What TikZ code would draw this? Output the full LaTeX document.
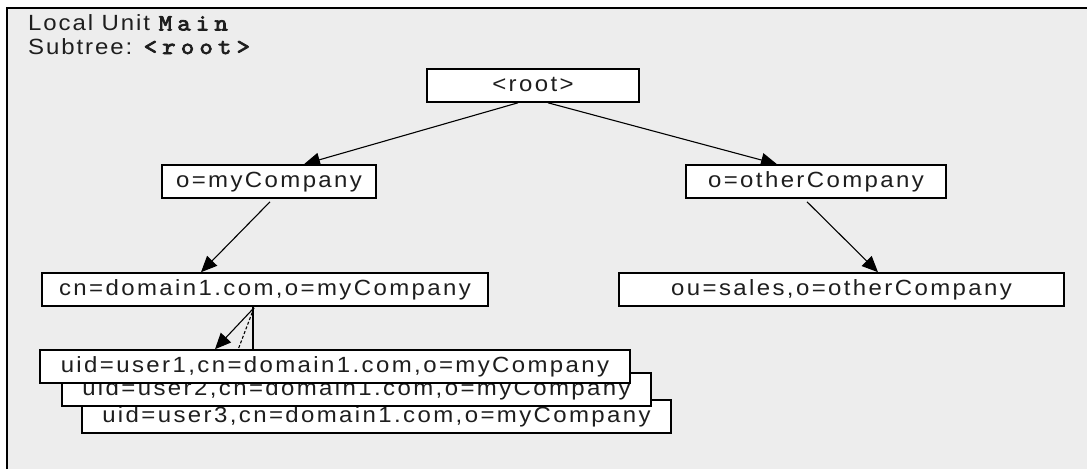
\documentclass[tikz,border=0pt]{standalone}
\usepackage{graphicx}
\usepackage{fontspec}
\setmainfont{Liberation Sans}
\newfontfamily\nodefont[LetterSpace=10]{Liberation Sans}
\newfontfamily\hdfont[LetterSpace=8]{Liberation Sans}
\newfontfamily\hdmono[LetterSpace=20,FakeBold=3]{lmmono10-regular.otf}
\usetikzlibrary{arrows.meta,calc}
\pgfdeclarelayer{bg}
\pgfsetlayers{bg,main}
\definecolor{panel}{HTML}{EDEDED}
\definecolor{ink}{HTML}{1E1E1E}
\newcommand{\wide}[1]{\scalebox{1.09}[1]{#1}}
\tikzset{
  dnbox/.style={draw=black, line width=1.6pt, fill=white, rectangle, inner sep=0pt,
    minimum height=33pt, text height=16pt, text depth=4.5pt, text=ink,
    font=\nodefont\fontsize{22}{26}\selectfont},
  edge/.style={draw=black, line width=1.1pt, -{Triangle[length=16pt,width=14pt]}},
  hdtext/.style={anchor=base west, inner sep=0pt, text height=15pt, text depth=2pt, text=ink, font=\hdfont\fontsize{22}{24}\selectfont}
}
\begin{document}
\begin{tikzpicture}[x=1pt,y=-1pt]
\useasboundingbox (0,0) rectangle (1087,469);
% header
\node[hdtext] (hd1) at (28,30.5) {\wide{Local Unit {\hdmono\fontsize{23.5}{24}\selectfont Main}}};
\node[hdtext] (hd2) at (28,54) {\wide{Subtree: {\hdmono\fontsize{23.5}{24}\selectfont <root>}}};
% tree nodes
\node[dnbox, minimum width=212pt] (root) at (533,85.5) {\wide{<root>}};
\node[dnbox, minimum width=214pt] (myc) at (269,181.5) {\wide{o=myCompany}};
\node[dnbox, minimum width=260pt] (othc) at (816,181.5) {\wide{o=otherCompany}};
\node[dnbox, minimum width=446pt] (cn) at (265,289.5) {\wide{cn=domain1.com,o=myCompany}};
\node[dnbox, minimum width=445pt] (ou) at (841.5,289.5) {\wide{ou=sales,o=otherCompany}};
\node[dnbox, minimum width=589pt] (u3) at (376.5,416.5) {\wide{uid=user3,cn=domain1.com,o=myCompany}};
\node[dnbox, minimum width=589pt] (u2) at (356.5,389.5) {\wide{uid=user2,cn=domain1.com,o=myCompany}};
\node[dnbox, minimum width=590pt] (u1) at (335,366.5) {\wide{uid=user1,cn=domain1.com,o=myCompany}};
\begin{pgfonlayer}{bg}
  \fill[white] (0,0) rectangle (1087,469);
  \fill[panel] (7,8) rectangle (1087,469);
  \draw[black, line width=2.5pt] (7,469) -- (7,8) -- (1087,8);
  \draw[edge] ([xshift=-15pt]root.south) -- ([xshift=35pt]myc.north);
  \draw[edge] ([xshift=15pt]root.south) -- ([xshift=-39pt]othc.north);
  \draw[edge] ([xshift=1pt,yshift=-3pt]myc.south) -- ([xshift=-64pt]cn.north);
  \draw[edge] ([xshift=-9pt,yshift=-3pt]othc.south) -- ([xshift=36.5pt]ou.north);
  \draw[edge] ([xshift=-11pt,yshift=-1pt]cn.south) -- ([xshift=-120pt]u1.north);
  \draw[edge, dash pattern=on 3pt off 2pt] ([xshift=-11pt,yshift=-1pt]cn.south) -- ([xshift=-127pt]u2.north);
  \draw[edge] ([xshift=-12pt]cn.south) -- ([xshift=-123.5pt]u3.north);
\end{pgfonlayer}
\end{tikzpicture}
\end{document}
